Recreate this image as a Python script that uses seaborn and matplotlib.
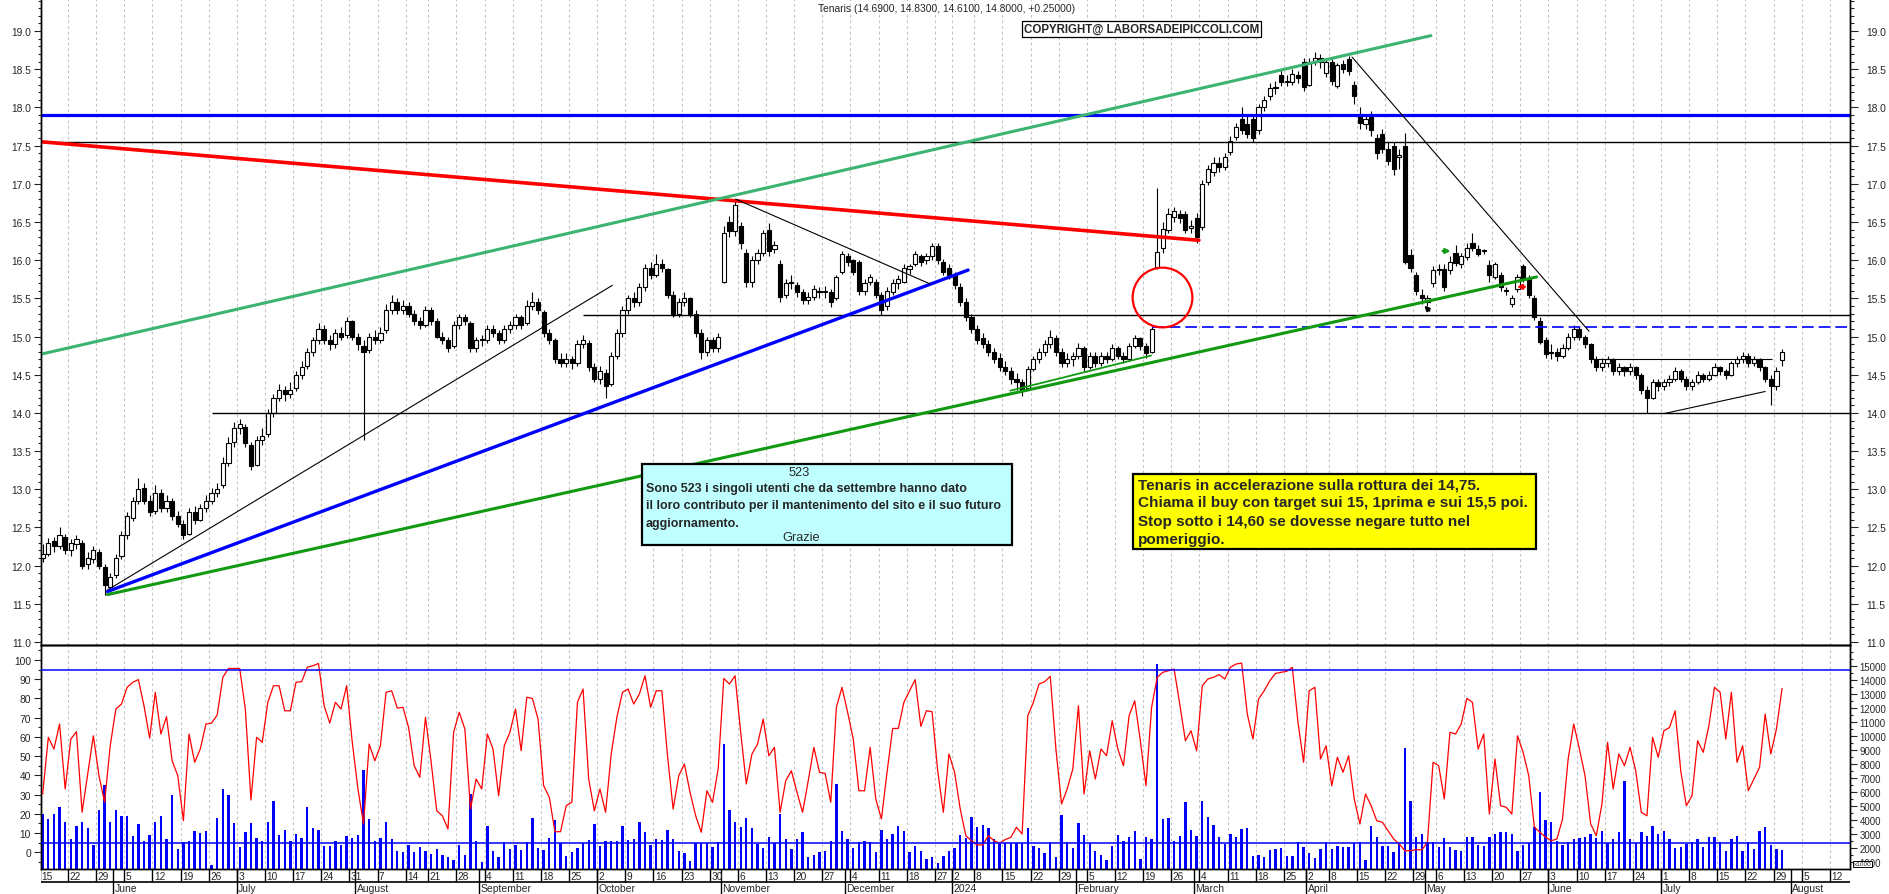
import numpy as np
import pandas as pd
import matplotlib
matplotlib.use("Agg")
import matplotlib.pyplot as plt
import matplotlib.ticker as mticker
from matplotlib.patches import Rectangle
import seaborn as sns

sns.set_style("white")
plt.rcParams["font.family"] = ["Liberation Sans", "DejaVu Sans"]

# -------------------------------
# DAILY CANDLES  (15 May 2023 -> 30 Jul 2024, one row per session)
# -------------------------------
opens = [
    12.10, 12.15, 12.32, 12.25, 12.38, 12.20, 12.28, 12.30, 12.02, 12.08, 12.18, 11.98, 11.72,
    11.88, 12.12, 12.40, 12.62, 12.85, 13.02, 12.85, 12.72, 12.95, 12.75, 12.85, 12.65, 12.55, 12.42, 12.70, 12.60, 12.75, 12.85, 12.95, 13.05, 13.35, 13.62,
    13.80, 13.82, 13.58, 13.32, 13.65, 13.72, 14.00, 14.20, 14.30, 14.25, 14.32, 14.50, 14.62, 14.80, 14.95, 15.10, 14.95, 14.90, 15.05, 15.02, 15.20,
    15.00, 14.88, 14.82, 15.00, 14.95, 15.08, 15.35, 15.45, 15.35, 15.40, 15.30, 15.20, 15.15, 15.35, 15.20, 15.00, 14.95, 14.88, 15.15, 15.25, 15.18, 14.85,
    14.95, 14.95, 15.10, 15.05, 14.95, 15.10, 15.15, 15.25, 15.18, 15.40, 15.45, 15.32, 15.05, 14.95, 14.70, 14.65, 14.70, 14.65, 14.90, 14.92, 14.60,
    14.45, 14.52, 14.38, 14.75, 15.05, 15.35, 15.50, 15.45, 15.65, 15.90, 15.80, 15.95, 15.88, 15.55, 15.30, 15.45, 15.50, 15.30, 15.05, 14.80, 14.95, 14.85,
    15.72, 16.50, 16.38, 16.45, 16.10, 15.72, 16.00, 16.10, 16.40, 16.15, 15.95, 15.55, 15.70, 15.68, 15.58, 15.48, 15.52, 15.60, 15.58, 15.58, 15.50, 15.85,
    16.05, 16.00, 15.98, 15.60, 15.72, 15.72, 15.55, 15.40, 15.58, 15.70, 15.72, 15.88, 15.95, 16.05, 16.00, 16.05, 16.18, 15.98, 15.90,
    15.80, 15.65, 15.45, 15.25, 15.10, 14.98, 14.90, 14.80, 14.72, 14.60, 14.55, 14.45, 14.40, 14.32, 14.58, 14.70, 14.80, 14.90, 14.98, 14.80, 14.65, 14.70,
    14.75, 14.85, 14.60, 14.75, 14.65, 14.75, 14.70, 14.85, 14.75, 14.70, 14.88, 14.98, 14.88, 14.80, 15.91, 16.16, 16.40, 16.57, 16.60, 16.60, 16.42,
    16.55, 16.44, 17.02, 17.15, 17.27, 17.22, 17.41, 17.61, 17.85, 17.78, 17.85, 17.70, 18.00, 18.15, 18.25, 18.43, 18.33, 18.33, 18.42, 18.60,
    18.30, 18.60, 18.65, 18.45, 18.60, 18.28, 18.57, 18.64, 18.30, 17.90, 17.78, 17.90, 17.60, 17.65, 17.45, 17.50, 17.35, 17.49, 16.07, 15.80, 15.55,
    15.45, 15.70, 15.87, 15.88, 15.87, 16.10, 15.95, 16.04, 16.22, 16.15, 16.12, 15.94, 15.78, 15.80, 15.60, 15.43, 15.62, 15.92, 15.75, 15.50, 15.20, 14.95,
    14.78, 14.80, 14.75, 14.85, 15.00, 15.10, 15.00, 14.90, 14.70, 14.60, 14.65, 14.70, 14.55, 14.60, 14.55, 14.60, 14.50, 14.30, 14.20, 14.40,
    14.35, 14.40, 14.45, 14.55, 14.45, 14.35, 14.40, 14.50, 14.45, 14.50, 14.60, 14.55, 14.50, 14.65, 14.70, 14.75, 14.65, 14.70, 14.60, 14.45, 14.35, 14.69,
]
highs = [
    12.28, 12.36, 12.38, 12.50, 12.42, 12.35, 12.40, 12.34, 12.18, 12.26, 12.22, 12.02, 11.90,
    12.15, 12.45, 12.70, 12.90, 13.15, 13.08, 12.92, 13.05, 13.00, 12.92, 12.88, 12.72, 12.60, 12.75, 12.78, 12.80, 12.92, 13.02, 13.08, 13.42, 13.68, 13.88,
    13.92, 13.85, 13.62, 13.70, 13.80, 14.05, 14.25, 14.38, 14.35, 14.40, 14.55, 14.68, 14.85, 15.00, 15.18, 15.15, 15.02, 15.10, 15.12, 15.25, 15.22,
    15.05, 14.95, 15.05, 15.08, 15.12, 15.42, 15.55, 15.50, 15.48, 15.45, 15.35, 15.25, 15.40, 15.38, 15.24, 15.06, 15.00, 15.20, 15.30, 15.30, 15.20, 15.00,
    15.02, 15.15, 15.15, 15.08, 15.15, 15.20, 15.30, 15.28, 15.48, 15.58, 15.50, 15.35, 15.10, 14.98, 14.78, 14.78, 14.75, 14.95, 15.02, 14.95, 14.65,
    14.62, 14.58, 14.80, 15.10, 15.40, 15.55, 15.58, 15.70, 15.95, 15.98, 16.08, 16.02, 15.90, 15.60, 15.50, 15.58, 15.52, 15.35, 15.10, 15.00, 15.00, 15.05,
    16.45, 16.58, 16.80, 16.50, 16.15, 16.05, 16.15, 16.40, 16.48, 16.25, 16.00, 15.75, 15.80, 15.72, 15.62, 15.58, 15.68, 15.65, 15.66, 15.62, 15.80, 16.12,
    16.10, 16.02, 16.00, 15.75, 15.82, 15.75, 15.58, 15.65, 15.75, 15.80, 15.95, 15.95, 16.12, 16.08, 16.10, 16.22, 16.22, 16.02, 15.95,
    15.85, 15.70, 15.50, 15.30, 15.15, 15.05, 14.95, 14.85, 14.78, 14.68, 14.60, 14.52, 14.45, 14.62, 14.75, 14.85, 14.95, 15.08, 15.02, 14.85, 14.78, 14.80,
    14.92, 14.88, 14.80, 14.80, 14.80, 14.80, 14.90, 14.88, 14.80, 14.92, 15.02, 15.00, 14.92, 15.15, 16.94, 16.50, 16.68, 16.70, 16.66, 16.65, 16.52,
    16.62, 17.05, 17.25, 17.35, 17.35, 17.40, 17.62, 17.80, 18.00, 17.90, 17.92, 18.05, 18.15, 18.32, 18.35, 18.50, 18.42, 18.50, 18.48, 18.65,
    18.65, 18.72, 18.70, 18.65, 18.66, 18.58, 18.62, 18.68, 18.35, 18.00, 17.90, 17.95, 17.65, 17.72, 17.55, 17.55, 17.45, 17.67, 16.15, 15.85, 15.62,
    15.55, 15.92, 15.95, 15.95, 16.05, 16.20, 16.10, 16.22, 16.36, 16.20, 16.15, 16.00, 15.98, 15.85, 15.65, 15.55, 15.82, 15.95, 15.80, 15.55, 15.25, 15.00,
    14.90, 14.85, 14.90, 15.05, 15.15, 15.12, 15.02, 14.92, 14.75, 14.72, 14.75, 14.72, 14.65, 14.62, 14.65, 14.62, 14.52, 14.35, 14.45, 14.45,
    14.45, 14.50, 14.60, 14.58, 14.48, 14.45, 14.55, 14.52, 14.55, 14.65, 14.62, 14.58, 14.68, 14.75, 14.80, 14.78, 14.75, 14.72, 14.62, 14.50, 14.60, 14.83,
]
lows = [
    12.05, 12.12, 12.18, 12.22, 12.15, 12.12, 12.22, 11.96, 11.95, 12.04, 11.96, 11.62, 11.66,
    11.84, 12.08, 12.35, 12.58, 12.80, 12.80, 12.65, 12.68, 12.70, 12.70, 12.60, 12.50, 12.35, 12.40, 12.55, 12.58, 12.70, 12.80, 12.90, 13.02, 13.30, 13.55,
    13.72, 13.55, 13.25, 13.30, 13.58, 13.68, 13.95, 14.15, 14.15, 14.20, 14.28, 14.45, 14.58, 14.75, 14.90, 14.90, 14.82, 14.85, 14.95, 14.98, 14.95,
    14.82, 13.65, 14.78, 14.90, 14.92, 15.05, 15.30, 15.30, 15.30, 15.25, 15.15, 15.10, 15.12, 15.15, 14.98, 14.90, 14.80, 14.85, 15.10, 15.15, 14.80, 14.80,
    14.88, 14.92, 15.00, 14.90, 14.92, 15.05, 15.10, 15.10, 15.15, 15.35, 15.30, 15.00, 14.90, 14.65, 14.60, 14.60, 14.58, 14.62, 14.85, 14.55, 14.40,
    14.38, 14.20, 14.35, 14.70, 15.00, 15.30, 15.38, 15.40, 15.60, 15.75, 15.78, 15.85, 15.50, 15.25, 15.25, 15.40, 15.25, 15.00, 14.70, 14.75, 14.80, 14.80,
    15.70, 16.30, 16.32, 16.15, 15.65, 15.65, 15.95, 16.05, 16.05, 16.10, 15.45, 15.50, 15.62, 15.52, 15.42, 15.42, 15.48, 15.50, 15.50, 15.38, 15.48, 15.82,
    15.92, 15.80, 15.55, 15.55, 15.68, 15.50, 15.28, 15.35, 15.55, 15.62, 15.70, 15.82, 15.92, 15.92, 15.95, 16.00, 15.95, 15.80, 15.75,
    15.62, 15.40, 15.20, 15.05, 14.90, 14.85, 14.75, 14.65, 14.55, 14.50, 14.38, 14.30, 14.22, 14.30, 14.55, 14.65, 14.75, 14.85, 14.75, 14.60, 14.60, 14.62,
    14.70, 14.55, 14.58, 14.60, 14.62, 14.65, 14.68, 14.70, 14.65, 14.68, 14.85, 14.82, 14.72, 14.78, 15.88, 16.10, 16.35, 16.50, 16.48, 16.35, 16.35,
    16.22, 16.40, 16.98, 17.10, 17.15, 17.18, 17.38, 17.58, 17.65, 17.60, 17.55, 17.65, 17.95, 18.10, 18.18, 18.28, 18.28, 18.30, 18.32, 18.22,
    18.28, 18.55, 18.52, 18.40, 18.30, 18.25, 18.45, 18.42, 18.05, 17.72, 17.72, 17.62, 17.32, 17.40, 17.25, 17.12, 17.20, 15.95, 15.85, 15.55, 15.42,
    15.40, 15.65, 15.80, 15.60, 15.82, 15.92, 15.90, 16.00, 16.12, 16.05, 16.08, 15.72, 15.75, 15.60, 15.55, 15.38, 15.58, 15.72, 15.50, 15.22, 14.90, 14.72,
    14.70, 14.68, 14.72, 14.82, 14.95, 14.95, 14.85, 14.65, 14.55, 14.55, 14.60, 14.50, 14.50, 14.48, 14.50, 14.45, 14.25, 14.00, 14.18, 14.28,
    14.30, 14.35, 14.42, 14.40, 14.30, 14.30, 14.38, 14.40, 14.42, 14.48, 14.50, 14.45, 14.48, 14.60, 14.65, 14.60, 14.62, 14.55, 14.40, 14.10, 14.30, 14.61,
]
closes = [
    12.15, 12.30, 12.25, 12.40, 12.20, 12.30, 12.35, 12.00, 12.10, 12.20, 12.00, 11.75, 11.85,
    12.10, 12.40, 12.65, 12.85, 13.00, 12.85, 12.70, 12.95, 12.75, 12.85, 12.65, 12.55, 12.40, 12.70, 12.60, 12.75, 12.85, 12.95, 13.00, 13.35, 13.60, 13.80,
    13.85, 13.60, 13.30, 13.65, 13.70, 14.00, 14.20, 14.30, 14.25, 14.30, 14.50, 14.60, 14.80, 14.95, 15.10, 14.95, 14.90, 15.05, 15.00, 15.20, 15.00,
    14.90, 14.80, 15.00, 14.95, 15.05, 15.35, 15.45, 15.35, 15.40, 15.30, 15.20, 15.15, 15.35, 15.20, 15.00, 14.95, 14.85, 15.15, 15.25, 15.20, 14.85, 14.95,
    14.95, 15.10, 15.05, 14.95, 15.10, 15.15, 15.25, 15.15, 15.40, 15.45, 15.35, 15.05, 14.95, 14.70, 14.65, 14.70, 14.65, 14.90, 14.95, 14.60, 14.45,
    14.55, 14.35, 14.75, 15.05, 15.35, 15.50, 15.45, 15.65, 15.90, 15.80, 15.95, 15.90, 15.55, 15.30, 15.45, 15.50, 15.30, 15.05, 14.80, 14.95, 14.85, 15.00,
    16.35, 16.38, 16.72, 16.22, 15.72, 16.00, 16.10, 16.35, 16.12, 16.20, 15.52, 15.70, 15.72, 15.58, 15.48, 15.52, 15.62, 15.58, 15.60, 15.45, 15.78, 16.08,
    15.98, 15.85, 15.60, 15.70, 15.78, 15.55, 15.35, 15.60, 15.70, 15.75, 15.90, 15.92, 16.08, 15.98, 16.05, 16.18, 16.00, 15.85, 15.80,
    15.68, 15.45, 15.25, 15.10, 14.95, 14.90, 14.80, 14.70, 14.60, 14.55, 14.45, 14.40, 14.30, 14.58, 14.70, 14.80, 14.90, 15.00, 14.80, 14.65, 14.70, 14.75,
    14.85, 14.60, 14.75, 14.65, 14.75, 14.70, 14.85, 14.75, 14.70, 14.88, 14.98, 14.88, 14.78, 15.10, 16.11, 16.41, 16.60, 16.64, 16.55, 16.40, 16.45,
    16.30, 17.00, 17.19, 17.27, 17.22, 17.35, 17.56, 17.74, 17.70, 17.65, 17.60, 18.00, 18.10, 18.26, 18.25, 18.33, 18.35, 18.44, 18.38, 18.27,
    18.60, 18.65, 18.60, 18.60, 18.35, 18.55, 18.50, 18.48, 18.15, 17.80, 17.85, 17.70, 17.40, 17.45, 17.30, 17.20, 17.38, 15.98, 15.90, 15.60, 15.50,
    15.50, 15.87, 15.87, 15.65, 15.98, 15.96, 16.05, 16.16, 16.16, 16.08, 16.12, 15.80, 15.95, 15.65, 15.60, 15.50, 15.78, 15.76, 15.55, 15.25, 14.93, 14.77,
    14.80, 14.75, 14.85, 15.00, 15.10, 15.00, 14.90, 14.70, 14.60, 14.65, 14.70, 14.55, 14.60, 14.55, 14.60, 14.50, 14.30, 14.20, 14.40, 14.35,
    14.40, 14.45, 14.55, 14.45, 14.35, 14.40, 14.50, 14.45, 14.50, 14.60, 14.55, 14.50, 14.65, 14.70, 14.75, 14.65, 14.70, 14.60, 14.45, 14.35, 14.55, 14.80,
]

# oscillator (red line, 0-100 scale)
osc = [
    30.3, 59.8, 53.7, 66.7, 32.9, 58.9, 62.7, 20.8, 40.7, 60.6, 39.8, 26.0, 55.4,
    74.5, 77.1, 85.8, 88.4, 89.8, 76.2, 59.4, 83.2, 61.5, 70.5, 47.6, 39.8, 16.4, 61.5, 46.8, 53.7, 66.7, 67.2, 71.4, 91.0, 95.6, 95.6,
    95.6, 74.5, 27.2, 59.8, 57.2, 78.0, 86.6, 86.6, 73.6, 73.6, 88.4, 88.7, 96.2, 97.0, 98.2, 76.2, 67.2, 78.0, 74.5, 86.6, 57.2,
    32.9, 14.7, 56.3, 47.6, 55.4, 83.2, 84.0, 75.0, 75.4, 65.0, 45.0, 39.0, 70.2, 47.1, 21.6, 19.0, 12.1, 62.4, 72.8, 64.1, 22.5, 38.1,
    32.9, 61.5, 53.7, 29.4, 55.4, 62.4, 74.5, 52.8, 80.6, 80.0, 69.3, 34.6, 28.6, 10.7, 10.7, 24.2, 26.0, 78.0, 84.9, 38.1, 21.6,
    32.9, 20.8, 51.1, 70.2, 83.2, 84.9, 77.1, 82.3, 91.8, 75.4, 84.0, 84.0, 50.2, 22.5, 39.8, 45.9, 31.2, 19.0, 10.4, 32.0, 26.0, 43.3,
    90.4, 87.5, 91.8, 62.4, 35.5, 51.1, 56.3, 69.3, 50.2, 54.6, 20.8, 37.2, 42.4, 31.2, 20.8, 37.2, 54.6, 41.6, 41.0, 26.0, 75.4, 85.8,
    72.8, 58.9, 32.0, 32.0, 54.6, 27.7, 17.3, 41.6, 64.4, 64.4, 78.0, 84.0, 89.8, 65.5, 73.6, 73.1, 42.4, 20.8, 51.1,
    41.6, 22.5, 8.6, 6.0, 3.8, 3.8, 8.6, 6.0, 4.8, 6.6, 7.8, 13.0, 9.5, 71.0, 78.0, 87.5, 88.7, 91.5, 53.7, 25.1, 32.9, 43.3,
    76.2, 30.3, 52.8, 38.1, 53.7, 50.2, 68.4, 53.7, 45.0, 71.0, 78.8, 58.0, 34.6, 75.4, 91.0, 93.6, 94.4, 95.3, 77.1, 58.0, 63.2,
    52.8, 86.6, 90.1, 91.0, 92.4, 90.1, 96.2, 97.9, 98.4, 71.9, 58.9, 79.7, 84.0, 89.2, 93.0, 93.6, 94.1, 96.2, 67.6, 46.8,
    84.0, 85.8, 48.5, 55.4, 34.6, 49.4, 41.6, 50.2, 27.7, 14.7, 30.3, 24.2, 16.4, 15.6, 11.2, 6.9, 4.3, 0.8, 0.8, 1.4, 1.2,
    5.2, 46.8, 45.0, 27.7, 62.4, 61.5, 66.7, 80.0, 78.0, 53.7, 61.5, 19.9, 48.5, 24.2, 23.4, 19.9, 60.6, 52.0, 39.8, 13.0, 10.4, 7.8,
    6.0, 6.9, 17.3, 48.5, 66.7, 53.7, 39.8, 14.7, 8.6, 25.1, 57.2, 32.9, 51.1, 45.0, 54.6, 42.4, 20.8, 19.0, 59.8, 49.4,
    63.2, 64.9, 73.6, 42.4, 24.2, 29.4, 58.0, 52.0, 65.8, 85.8, 83.2, 58.9, 83.2, 46.8, 55.4, 32.0, 38.1, 44.2, 71.9, 51.1, 64.1, 85.2,
]

# volume in thousands of shares
volume_k = [
    4.44, 4.09, 4.44, 4.92, 3.85, 2.66, 3.61, 3.90, 3.42, 2.24, 4.75, 6.53, 3.90,
    4.75, 4.28, 4.28, 2.90, 3.73, 2.54, 2.95, 3.90, 4.28, 2.66, 5.82, 1.95, 2.47, 2.54, 3.23, 3.09, 3.23, 0.84, 4.13, 6.22, 5.82, 3.78,
    2.07, 3.14, 3.78, 2.76, 2.54, 3.90, 5.34, 2.97, 3.30, 2.54, 3.02, 2.71, 4.92, 3.45, 3.28, 2.14, 2.19, 2.54, 2.26, 2.85, 2.73,
    2.97, 7.57, 4.09, 2.50, 2.71, 3.85, 2.66, 1.78, 1.71, 2.26, 1.71, 2.07, 1.83, 1.59, 1.95, 1.52, 1.36, 1.19, 2.24, 1.52, 5.87, 2.54,
    1.05, 3.61, 1.81, 1.36, 2.47, 1.95, 2.24, 1.90, 2.47, 4.16, 2.00, 1.90, 2.71, 4.01, 2.38, 1.43, 1.76, 2.00, 2.38, 2.59, 3.71,
    2.19, 2.54, 2.52, 2.54, 3.61, 2.57, 2.64, 3.85, 3.14, 2.24, 2.64, 2.57, 3.28, 2.66, 1.78, 1.67, 1.10, 2.38, 2.38, 2.38, 2.09, 2.42,
    9.40, 4.75, 3.90, 3.49, 4.16, 3.47, 2.28, 2.00, 2.78, 2.38, 4.44, 2.66, 1.95, 2.66, 3.14, 1.40, 1.52, 1.71, 1.78, 2.54, 6.55, 3.21,
    2.66, 2.00, 2.42, 2.54, 2.47, 1.76, 3.30, 2.66, 3.02, 3.61, 3.21, 1.76, 2.14, 1.83, 1.24, 1.40, 0.95, 1.48, 1.83,
    2.00, 2.95, 2.73, 4.20, 3.49, 3.66, 3.42, 2.66, 2.31, 2.38, 2.38, 2.38, 2.38, 3.45, 2.14, 2.00, 1.67, 2.47, 1.40, 4.37, 2.47, 2.00,
    3.80, 2.95, 2.38, 1.83, 1.52, 1.17, 2.14, 2.97, 2.54, 2.78, 3.21, 1.24, 2.83, 2.66, 15.12, 4.09, 4.16, 2.54, 2.85, 5.32, 3.30,
    2.90, 5.37, 4.20, 3.68, 2.78, 2.31, 3.02, 2.83, 3.37, 3.45, 1.48, 1.52, 1.36, 1.88, 1.95, 2.00, 1.48, 1.48, 2.42, 2.07,
    1.64, 1.31, 1.95, 2.42, 1.95, 2.19, 2.07, 2.07, 2.38, 2.42, 1.19, 3.56, 2.83, 2.14, 2.14, 1.71, 2.38, 9.14, 5.34, 2.78, 3.02,
    2.47, 2.42, 2.07, 2.71, 2.07, 1.90, 1.78, 2.78, 2.80, 2.24, 2.19, 2.78, 2.99, 3.18, 3.14, 3.02, 1.78, 2.24, 2.38, 3.54, 6.03, 4.01,
    3.85, 2.54, 2.24, 2.42, 2.66, 2.73, 2.78, 3.02, 2.73, 3.21, 2.38, 2.66, 3.18, 6.81, 2.66, 2.38, 3.18, 2.85, 3.56, 3.02,
    3.21, 2.66, 2.04, 2.07, 2.28, 2.47, 2.66, 2.07, 2.78, 2.78, 2.47, 1.83, 2.66, 2.85, 1.78, 2.47, 1.95, 3.21, 3.54, 2.24, 1.95, 1.90,
]

# date axis: session index of first trading day of each week / month
week_idx = [0, 5, 10, 15, 20, 25, 30, 35, 40, 45, 50, 55, 60, 65, 69, 74, 79, 84, 89, 94,
            99, 104, 109, 114, 119, 124, 129, 134, 139, 144, 149, 154, 159, 162, 166, 171, 176, 181, 186, 191,
            196, 201, 206, 211, 216, 221, 225, 229, 234, 239, 244, 248, 253, 258, 263, 268, 273, 278, 283, 288,
            293, 298, 303, 308, 313, 318]
week_lab = ["15", "22", "29", "5", "12", "19", "26", "3", "10", "17", "24", "31", "7", "14", "21", "28", "4", "11", "18", "25",
            "2", "9", "16", "23", "30", "6", "13", "20", "27", "4", "11", "18", "27", "2", "8", "15", "22", "29", "5", "12",
            "19", "26", "4", "11", "18", "25", "2", "8", "15", "22", "29", "6", "13", "20", "27", "3", "10", "17", "24", "1",
            "8", "15", "22", "29", "5", "12"]
month_idx = [13, 35, 56, 78, 99, 121, 143, 162, 184, 205, 225, 246, 268, 288, 311]
month_lab = ["June", "July", "August", "September", "October", "November", "December", "2024",
             "February", "March", "April", "May", "June", "July", "August"]

df = pd.DataFrame({"open": opens, "high": highs, "low": lows, "close": closes,
                   "osc": osc, "vol": np.array(volume_k) * 1000})
df["i"] = np.arange(len(df))

# -------------------------------
# LAYOUT (pixel boxes of the 1890x895 picture)
# -------------------------------
W, H = 1890, 895
XL, XR = -0.21, 321.07


def box(x0, y0, x1, y1):
    return [x0 / W, 1 - y1 / H, (x1 - x0) / W, (y1 - y0) / H]


fig = plt.figure(figsize=(18.9, 8.95), dpi=100)
ax_p = fig.add_axes(box(41.5, 0, 1850, 646))
ax_i = fig.add_axes(box(41.5, 646, 1850, 870))
ax_d = fig.add_axes(box(41.5, 870, 1850, 895))

grid_kw = dict(color="#c4c4c4", lw=0.8, ls=(0, (2.5, 2.5)), zorder=0)

# -------------------------------
# PRICE PANEL
# -------------------------------
ax_p.set_xlim(XL, XR)
ax_p.set_ylim(10.96, 19.42)
for w in week_idx:
    ax_p.axvline(w - 0.5, **grid_kw)

up = df[df["close"] >= df["open"]]
dn = df[df["close"] < df["open"]]
ax_p.vlines(df["i"], df["low"], df["high"], color="black", lw=0.8, zorder=3)
ax_p.bar(up["i"], (up["close"] - up["open"]).clip(lower=0.015), bottom=up["open"], width=0.74,
         color="white", edgecolor="black", lw=0.8, zorder=4)
ax_p.bar(dn["i"], dn["open"] - dn["close"], bottom=dn["close"], width=0.74,
         color="black", edgecolor="black", lw=0.8, zorder=4)

# drawn studies
ax_p.axhline(17.9, color="#0000ff", lw=2.3, zorder=5)
ax_p.axhline(17.55, color="black", lw=1.0, zorder=5)
ax_p.hlines(14.0, 30, XR, color="black", lw=1.0, zorder=5)
ax_p.hlines(15.28, 96, XR, color="black", lw=1.0, zorder=5)
ax_p.hlines(15.13, 197, XR, color="#0000ff", lw=1.2, ls=(0, (7, 3)), zorder=5)
ax_p.plot([XL, 205.4], [17.55, 16.26], color="#ff0000", lw=2.6, zorder=5)
ax_p.plot([XL, 246.6], [14.77, 18.94], color="#3cb371", lw=2.2, zorder=5)
ax_p.plot([11.5, 101.2], [11.68, 15.67], color="black", lw=0.8, zorder=5)
ax_p.plot([11.5, 164.4], [11.66, 15.87], color="#0000ff", lw=2.4, zorder=5)
ax_p.plot([11.5, 265.4], [11.62, 15.78], color="#119911", lw=2.2, zorder=5)
ax_p.plot([123.1, 157.6], [16.80, 15.69], color="black", lw=0.8, zorder=5)
ax_p.plot([232.6, 274.7], [18.66, 15.07], color="black", lw=0.8, zorder=5)
ax_p.plot([171.9, 196.9], [14.29, 14.75], color="#119911", lw=1.3, zorder=5)
ax_p.hlines(14.70, 275.5, 307.2, color="black", lw=0.8, zorder=5)
ax_p.plot([288.0, 306.0], [13.99, 14.28], color="black", lw=0.8, zorder=5)
ax_p.plot([198.8], [15.52], marker="o", ms=43, mfc="none", mec="#ff0000", mew=1.6, zorder=6)

ax_p.annotate("", xy=(250.6, 16.12), xytext=(248.2, 16.12),
              arrowprops=dict(arrowstyle="-|>", color="#119911", lw=1.6, mutation_scale=7), zorder=7)
ax_p.annotate("", xy=(261.4, 15.65), xytext=(263.8, 15.65),
              arrowprops=dict(arrowstyle="-|>", color="#ff0000", lw=1.6, mutation_scale=7), zorder=7)
ax_p.annotate("", xy=(245.1, 15.43), xytext=(246.7, 15.31),
              arrowprops=dict(arrowstyle="-|>", color="black", lw=1.4, mutation_scale=7), zorder=7)

ax_pr = ax_p.twinx()
ax_pr.set_ylim(ax_p.get_ylim())
for a in (ax_p, ax_pr):
    a.yaxis.set_major_locator(mticker.MultipleLocator(0.5))
    a.yaxis.set_minor_locator(mticker.MultipleLocator(0.1))
    a.yaxis.set_major_formatter(mticker.FormatStrFormatter("%.1f"))
    a.tick_params(axis="x", bottom=False, top=False, labelbottom=False)
    a.spines["top"].set_visible(False)
ax_p.tick_params(axis="y", which="major", left=True, length=5, width=0.8, pad=2.5, labelsize=7.4)
ax_p.tick_params(axis="y", which="minor", left=True, length=2.5, width=0.8)
ax_pr.tick_params(axis="y", which="major", right=True, length=6, width=0.8, pad=6, labelsize=7.4)
ax_pr.tick_params(axis="y", which="minor", right=True, length=3, width=0.8)

# -------------------------------
# INDICATOR PANEL (oscillator + volume)
# -------------------------------
ax_v = ax_i.twinx()
ax_v.set_xlim(XL, XR)
ax_v.set_ylim(526, 16474)
for w in week_idx:
    ax_v.axvline(w - 0.5, **grid_kw)
ax_v.bar(df["i"], df["vol"], width=0.42, color="#0000ff", lw=0, antialiased=False, zorder=2)

sns.lineplot(data=df, x="i", y="osc", ax=ax_i, color="#ff0000", lw=0.9, zorder=3)
ax_i.axhline(95, color="#0000ff", lw=1.1, zorder=4)
ax_i.axhline(5, color="#0000ff", lw=1.1, zorder=4)
ax_i.set_xlim(XL, XR)
ax_i.set_ylim(-8.7, 107.8)
ax_i.set_xlabel("")
ax_i.set_ylabel("")
ax_i.set_zorder(ax_v.get_zorder() + 1)
ax_i.patch.set_visible(False)

ax_i.yaxis.set_major_locator(mticker.FixedLocator(range(0, 101, 10)))
ax_i.yaxis.set_minor_locator(mticker.FixedLocator(range(-5, 106, 5)))
ax_i.tick_params(axis="y", which="major", left=True, length=5, width=0.8, pad=2.5, labelsize=7.4)
ax_i.tick_params(axis="y", which="minor", left=True, length=2.5, width=0.8)
ax_i.tick_params(axis="x", bottom=False, labelbottom=False)
ax_v.yaxis.set_major_locator(mticker.FixedLocator(range(1000, 15001, 1000)))
ax_v.yaxis.set_minor_locator(mticker.FixedLocator(range(1000, 16001, 500)))
ax_v.yaxis.set_major_formatter(mticker.FormatStrFormatter("%d"))
ax_v.tick_params(axis="y", which="major", right=True, length=5, width=0.8, pad=1.8, labelsize=6.9)
ax_v.tick_params(axis="y", which="minor", right=True, length=2.5, width=0.8)
ax_v.tick_params(axis="x", bottom=False, labelbottom=False)

for a in (ax_p, ax_pr, ax_i, ax_v):
    for s in a.spines.values():
        s.set_linewidth(1.0)
        s.set_color("black")
ax_p.spines["top"].set_visible(False)
ax_pr.spines["top"].set_visible(False)

# -------------------------------
# DATE STRIP
# -------------------------------
ax_d.set_xlim(XL, XR)
ax_d.set_ylim(0, 25)
ax_d.axis("off")
ax_d.axhline(12, color="black", lw=1.2)
ax_d.vlines([w - 0.5 for w in week_idx], 12, 25, color="black", lw=1.0)
ax_d.vlines([m - 0.5 for m in month_idx], 0, 25, color="black", lw=1.0)
for w, lab in zip(week_idx, week_lab):
    ax_d.text(w - 0.25, 18.3, lab, fontsize=7.3, ha="left", va="center")
for m, lab in zip(month_idx, month_lab):
    ax_d.text(m - 0.25, 10.5, lab, fontsize=7.5, ha="left", va="top")

# -------------------------------
# TEXTS AND NOTES
# -------------------------------
fig.text(818 / W, 1 - 8.5 / H, "Tenaris (14.6900, 14.8300, 14.6100, 14.8000, +0.25000)",
         fontsize=7.4, ha="left", va="center")
fig.text(1141.5 / W, 1 - 30 / H, "COPYRIGHT@ LABORSADEIPICCOLI.COM", fontsize=8.3,
         fontweight="bold", ha="center", va="center",
         bbox=dict(boxstyle="square,pad=0.2", fc="white", ec="black", lw=0.9))

fig.add_artist(Rectangle((641.7 / W, 1 - 545.7 / H), 370.6 / W, 80.7 / H,
                         transform=fig.transFigure, fc="#c0ffff", ec="black", lw=1.6, zorder=8))
fig.text(799 / W, 1 - 473.5 / H, "523", fontsize=9.2, ha="center", va="center", zorder=9)
cyan_lines = ["Sono 523 i singoli utenti che da settembre hanno dato",
              "il loro contributo per il mantenimento del sito e il suo futuro",
              "aggiornamento."]
for k, line in enumerate(cyan_lines):
    fig.text(646 / W, 1 - (489.5 + 17 * k) / H, line, fontsize=9.0, fontweight="bold",
             ha="left", va="center", zorder=9)
fig.text(801 / W, 1 - 538.5 / H, "Grazie", fontsize=9.2, ha="center", va="center", zorder=9)

fig.add_artist(Rectangle((1133.3 / W, 1 - 550 / H), 402.7 / W, 75 / H,
                         transform=fig.transFigure, fc="#ffff00", ec="black", lw=1.6, zorder=8))
yellow_lines = ["Tenaris in accelerazione sulla rottura dei 14,75.",
                "Chiama il buy con target sui 15, 1prima e sui 15,5 poi.",
                "Stop sotto i 14,60 se dovesse negare tutto nel",
                "pomeriggio."]
for k, line in enumerate(yellow_lines):
    fig.text(1138 / W, 1 - (485 + 18.4 * k) / H, line, fontsize=11.0, fontweight="bold",
             ha="left", va="center", zorder=9)

fig.text(1862.5 / W, 1 - 865 / H, "x1000", fontsize=4.6, ha="center", va="center", zorder=10,
         bbox=dict(boxstyle="square,pad=0.15", fc="white", ec="black", lw=0.7))

fig.savefig("out.png", dpi=100)
